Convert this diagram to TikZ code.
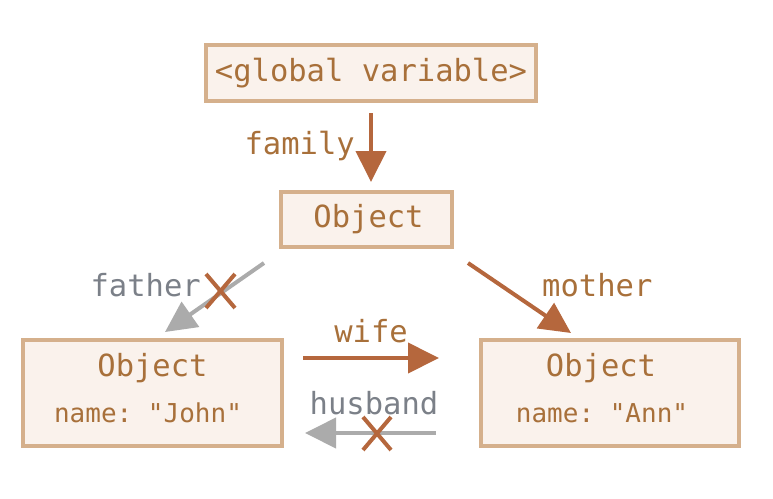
\documentclass[tikz,border=0pt]{standalone}
\usepackage{fontspec}
\setmonofont{DejaVu Sans Mono}
\usetikzlibrary{arrows.meta}
\definecolor{boxline}{HTML}{D5B08C}
\definecolor{boxfill}{HTML}{FAF2EC}
\definecolor{txt}{HTML}{A8703A}
\definecolor{arr}{HTML}{B5673D}
\definecolor{grayarr}{HTML}{ABABAB}
\definecolor{graytxt}{HTML}{7B8088}
\tikzset{
  x=1pt,y=-1pt,
  objbox/.style={draw=boxline,fill=boxfill,line width=4pt,inner sep=0pt,font=\ttfamily\fontsize{30.5}{34}\selectfont,text=txt},
  lbl/.style={font=\ttfamily\fontsize{30.5}{34}\selectfont,text=txt,inner sep=0pt},
  glbl/.style={lbl,text=graytxt},
  small/.style={font=\ttfamily\fontsize{26}{30}\selectfont,text=txt,inner sep=0pt},
  link/.style={draw=arr,line width=4pt,-{Triangle[length=31pt,width=30pt]}},
  deadlink/.style={draw=grayarr,line width=4pt,-{Triangle[length=31pt,width=30pt]}},
  cross/.style={draw=arr,line width=4pt}
}
\begin{document}
\begin{tikzpicture}
\useasboundingbox (0,0) rectangle (773,498);
\node[objbox,minimum width=330pt,minimum height=56pt] (glob) at (371,73) {<global variable>};
\node[objbox,minimum width=171pt,minimum height=55pt] (obj) at (366.5,219.5) {\hspace{4pt}Object};
\node[draw=boxline,fill=boxfill,line width=4pt,minimum width=259pt,minimum height=106pt,inner sep=0pt] (john) at (152.5,393) {};
\node[draw=boxline,fill=boxfill,line width=4pt,minimum width=258pt,minimum height=106pt,inner sep=0pt] (ann) at (610,393) {};
\node[lbl] (johnt) at (152.5,368) {Object};
\node[small] (johnn) at (148,413) {name: "John"};
\node[lbl] (annt) at (601,368) {Object};
\node[small] (annn) at (602,413) {name: "Ann"};
% family
\coordinate (fs) at (371,113);
\coordinate (fe) at (371,182);
\draw[link] (fs) -- (fe);
\node[lbl,anchor=east] (famlbl) at (355,146) {family};
% father
\coordinate (fas) at (264,263);
\coordinate (fae) at (165,332);
\draw[deadlink] (fas) -- (fae);
\node[glbl,anchor=east] (falbl) at (201,285) {father};
\coordinate (fx1) at (206,274);
\coordinate (fx2) at (235,308);
\coordinate (fx3) at (235,274);
\coordinate (fx4) at (206,308);
\draw[cross] (fx1) -- (fx2);
\draw[cross] (fx3) -- (fx4);
% mother
\coordinate (ms) at (468,263);
\coordinate (me) at (571,333);
\draw[link] (ms) -- (me);
\node[lbl,anchor=west] (molbl) at (542,285) {mother};
% wife
\coordinate (ws) at (303,358);
\coordinate (we) at (439,358);
\draw[link] (ws) -- (we);
\node[lbl] (wlbl) at (371,331) {wife};
% husband
\coordinate (hs) at (436,433);
\coordinate (he) at (305,433);
\draw[deadlink] (hs) -- (he);
\node[glbl] (hlbl) at (374,403) {husband};
\coordinate (hx1) at (363,417);
\coordinate (hx2) at (391,450);
\coordinate (hx3) at (391,417);
\coordinate (hx4) at (363,450);
\draw[cross] (hx1) -- (hx2);
\draw[cross] (hx3) -- (hx4);
\end{tikzpicture}
\end{document}
